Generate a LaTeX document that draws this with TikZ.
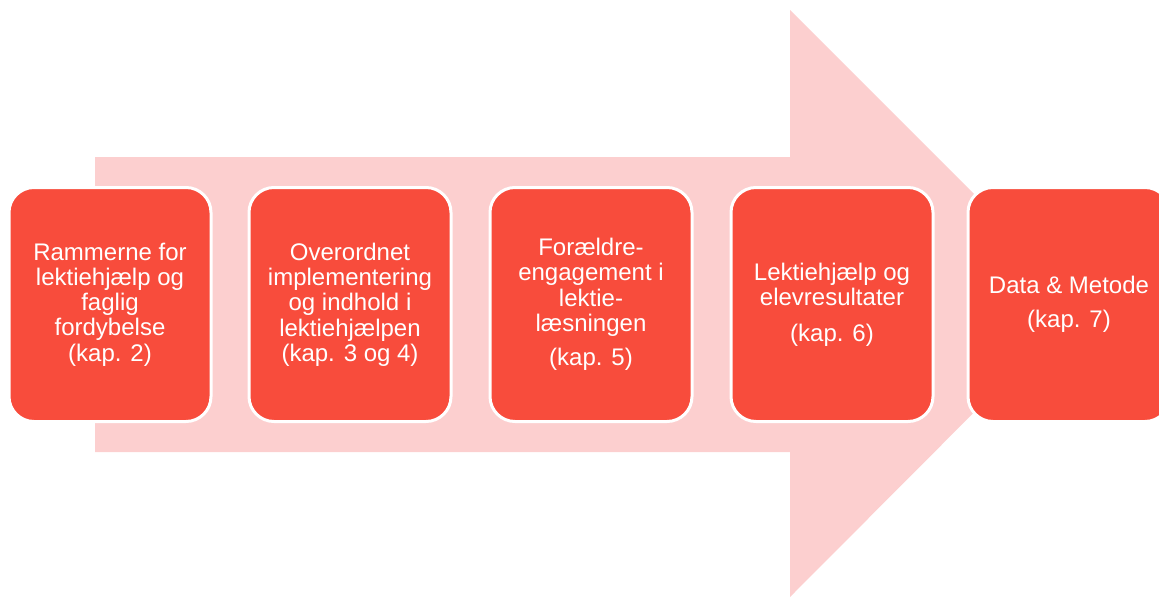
\documentclass[tikz,border=0pt]{standalone}
\usepackage{fontspec}
\setmainfont{Liberation Sans}
\definecolor{arrowpink}{HTML}{FCCFCF}
\definecolor{boxred}{HTML}{F84C3C}
\begin{document}
\begin{tikzpicture}[x=1pt,y=-1pt]
    \tikzstyle{every node}+=[inner sep=0pt]
    \tikzstyle{kapbox}=[draw=white, line width=3pt, fill=boxred, rounded corners=25pt, minimum width=202pt, minimum height=234pt, text=white, align=center, font=\fontsize{24}{25.3}\selectfont]
    \useasboundingbox (0,0) rectangle (1159,597);
    % big arrow behind the boxes
    \fill [arrowpink] (95,157) -- (790,157) -- (790,10) -- (1083,303) -- (790,597) -- (790,452) -- (95,452) -- cycle;
    % chapter boxes
    \node [kapbox] (rammer) at (110,304.5) {Rammerne for\\lektiehjælp og\\faglig\\fordybelse\\(kap. 2)};
    \node [kapbox] (implement) at (350,304.5) {Overordnet\\implementering\\og indhold i\\lektiehjælpen\\(kap. 3 og 4)};
    \node [kapbox] (foraeldre) at (591,304.5) {Forældre-\\engagement i\\lektie-\\læsningen\\[9pt](kap. 5)};
    \node [kapbox] (elevres) at (832,304.5) {Lektiehjælp og\\elevresultater\\[10pt](kap. 6)};
    \node [kapbox] (metode) at (1069,304.5) {Data \& Metode\\[9pt](kap. 7)};
\end{tikzpicture}
\end{document}
